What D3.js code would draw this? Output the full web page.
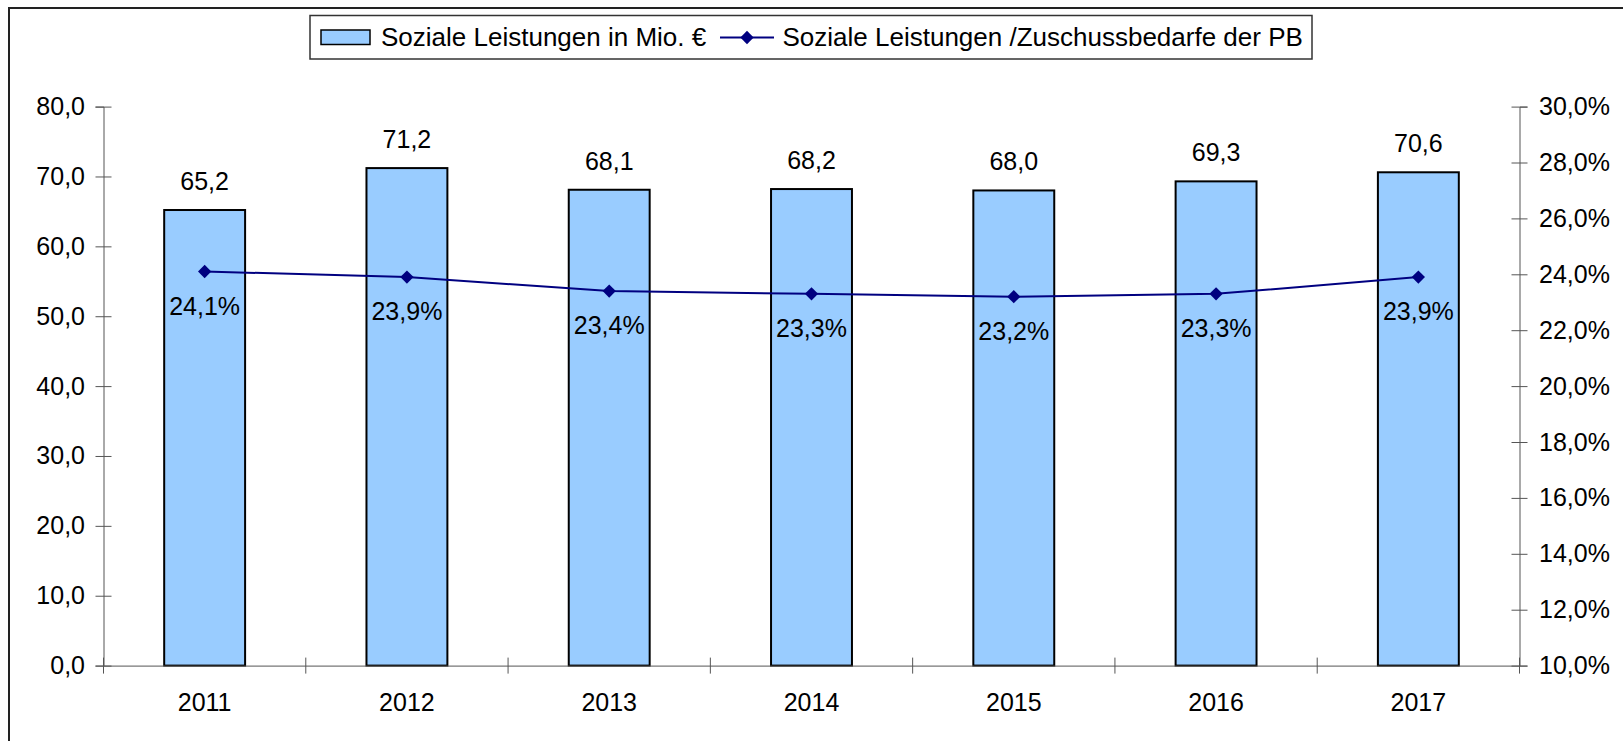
<!DOCTYPE html>
<html>
<head>
<meta charset="utf-8">
<script src="https://cdn.jsdelivr.net/npm/d3@7"></script>
<style>
  body { margin: 0; background: #fff; }
  svg { display: block; font-family: "Liberation Sans", Arial, sans-serif; }
</style>
</head>
<body>
<script>
// data
var years = ["2011", "2012", "2013", "2014", "2015", "2016", "2017"];
var leistungen = [65.2, 71.2, 68.1, 68.2, 68.0, 69.3, 70.6];      // Mio. €
var anteil = [0.241, 0.239, 0.234, 0.233, 0.232, 0.233, 0.239];   // Leistungen / Zuschussbedarfe
var leftTicks = [0, 10, 20, 30, 40, 50, 60, 70, 80];
var rightTicks = [0.10, 0.12, 0.14, 0.16, 0.18, 0.20, 0.22, 0.24, 0.26, 0.28, 0.30];
var legendLabels = ["Soziale Leistungen in Mio. €", "Soziale Leistungen /Zuschussbedarfe der PB"];

var W = 1623, H = 741;
var plot = {left: 103.5, right: 1519.5, top: 106.6, bottom: 665.6};

var de = d3.formatLocale({decimal: ",", thousands: ".", grouping: [3], currency: ["", " €"]});
var fmtNum = de.format(".1f");
var fmtPct = de.format(".1%");

var x = d3.scaleBand()
    .domain(years)
    .range([plot.left, plot.right])
    .padding(0);
var barW = x.bandwidth() * 0.4;
var y = d3.scaleLinear().domain([0, 80]).range([plot.bottom, plot.top]);
var y2 = d3.scaleLinear().domain([0.10, 0.30]).range([plot.bottom, plot.top]);

var svg = d3.select("body").append("svg")
    .attr("width", W)
    .attr("height", H);

// outer frame (right and bottom edges run off the picture)
svg.append("rect")
    .attr("x", 9).attr("y", 8)
    .attr("width", 1700).attr("height", 800)
    .attr("fill", "none")
    .attr("stroke", "#222")
    .attr("stroke-width", 2);

// bars
svg.selectAll(".bar")
    .data(leistungen)
  .enter().append("rect")
    .attr("class", "bar")
    .attr("x", function(d, i) { return x(years[i]) + (x.bandwidth() - barW) / 2; })
    .attr("y", function(d) { return y(d); })
    .attr("width", barW)
    .attr("height", function(d) { return y(0) - y(d); })
    .attr("fill", "#99ccff")
    .attr("stroke", "#000")
    .attr("stroke-width", 2);

// left axis
var gl = svg.append("g")
    .attr("transform", "translate(" + plot.left + ",0)")
    .call(d3.axisLeft(y).tickValues(leftTicks).tickFormat(fmtNum).tickSize(8).tickPadding(10.5));
gl.selectAll(".tick line").attr("x1", 8);

// right axis
var gr = svg.append("g")
    .attr("transform", "translate(" + plot.right + ",0)")
    .call(d3.axisRight(y2).tickValues(rightTicks).tickFormat(fmtPct).tickSize(8).tickPadding(11.5));
gr.selectAll(".tick line").attr("x1", -8);

// bottom axis: labels at band centres, ticks at band edges
var gb = svg.append("g")
    .attr("transform", "translate(0," + plot.bottom + ")")
    .call(d3.axisBottom(x).tickSize(0).tickPadding(28));
var edges = years.map(function(d) { return x(d); }).concat([x(years[years.length - 1]) + x.bandwidth()]);
gb.selectAll(".edge")
    .data(edges)
  .enter().append("line")
    .attr("class", "edge")
    .attr("x1", function(d) { return d; })
    .attr("x2", function(d) { return d; })
    .attr("y1", -8).attr("y2", 8)
    .attr("stroke", "#555");

svg.selectAll(".domain, .tick line").attr("stroke", "#555");
svg.selectAll(".tick text")
    .attr("fill", "#000")
    .attr("font-size", 25)
    .attr("font-family", "Liberation Sans, Arial, sans-serif");

// line series
var line = d3.line()
    .x(function(d, i) { return x(years[i]) + x.bandwidth() / 2; })
    .y(function(d) { return y2(d); });
svg.append("path")
    .datum(anteil)
    .attr("d", line)
    .attr("fill", "none")
    .attr("stroke", "#000080")
    .attr("stroke-width", 2);

// square diamond (rotated square), like the Excel marker
var diamond = d3.symbol().type(d3.symbolSquare).size(88);
svg.selectAll(".marker")
    .data(anteil)
  .enter().append("path")
    .attr("class", "marker")
    .attr("d", diamond)
    .attr("transform", function(d, i) {
      return "translate(" + (x(years[i]) + x.bandwidth() / 2) + "," + y2(d) + ") rotate(45)";
    })
    .attr("fill", "#000080");

// value labels
svg.selectAll(".vlabel")
    .data(leistungen)
  .enter().append("text")
    .attr("class", "vlabel")
    .attr("x", function(d, i) { return x(years[i]) + x.bandwidth() / 2; })
    .attr("y", function(d) { return y(d) - 20; })
    .attr("text-anchor", "middle")
    .attr("font-size", 25)
    .text(function(d) { return fmtNum(d); });

svg.selectAll(".plabel")
    .data(anteil)
  .enter().append("text")
    .attr("class", "plabel")
    .attr("x", function(d, i) { return x(years[i]) + x.bandwidth() / 2; })
    .attr("y", function(d) { return y2(d) + 43; })
    .attr("text-anchor", "middle")
    .attr("font-size", 25)
    .text(function(d) { return fmtPct(d); });

// legend
var lg = svg.append("g");
lg.append("rect")
    .attr("x", 310).attr("y", 15.5)
    .attr("width", 1002).attr("height", 43.5)
    .attr("fill", "#fff")
    .attr("stroke", "#333")
    .attr("stroke-width", 1.5);
lg.append("rect")
    .attr("x", 321).attr("y", 30)
    .attr("width", 49).attr("height", 14.5)
    .attr("fill", "#99ccff")
    .attr("stroke", "#000")
    .attr("stroke-width", 1.5);
lg.append("text")
    .attr("x", 381).attr("y", 46)
    .attr("font-size", 26)
    .text(legendLabels[0]);
lg.append("line")
    .attr("x1", 720).attr("x2", 774)
    .attr("y1", 37.5).attr("y2", 37.5)
    .attr("stroke", "#000080")
    .attr("stroke-width", 2);
lg.append("path")
    .attr("d", diamond)
    .attr("transform", "translate(747,37.5) rotate(45)")
    .attr("fill", "#000080");
lg.append("text")
    .attr("x", 782.5).attr("y", 46)
    .attr("font-size", 26)
    .text(legendLabels[1]);
</script>
</body>
</html>
